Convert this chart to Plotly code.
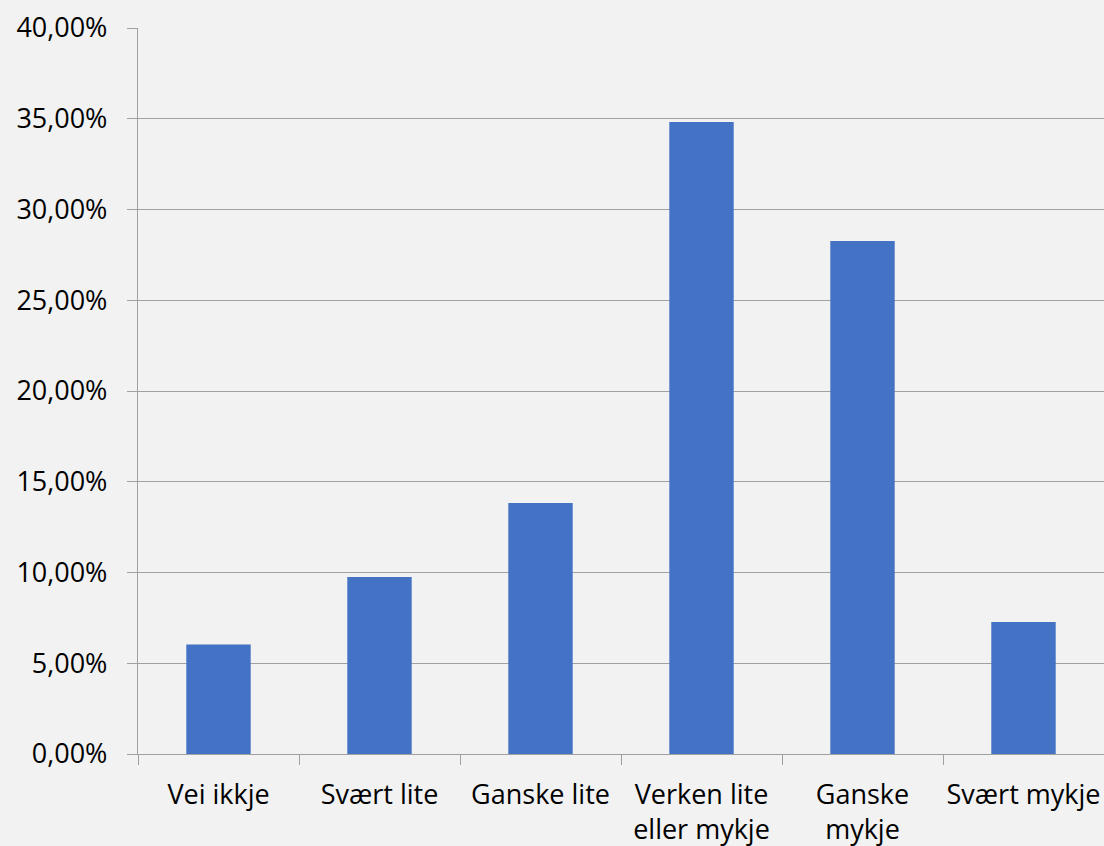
import plotly.graph_objects as go

categories = ["Vei ikkje", "Svært lite", "Ganske lite", "Verken lite<br>eller mykje", "Ganske<br>mykje", "Svært mykje"]
values = [0.0603, 0.0975, 0.1383, 0.3482, 0.2826, 0.0727]
y_ticks = [0, 0.05, 0.10, 0.15, 0.20, 0.25, 0.30, 0.35, 0.40]

grid = "#a0a0a0"
font = "Open Sans"

fig = go.Figure(go.Bar(
    x=categories, y=values,
    marker=dict(color="#4472C4", line=dict(width=0)),
    width=0.4,
))

fig.update_layout(
    width=1104, height=846,
    margin=dict(l=138, r=0, t=28, b=92),
    paper_bgcolor="#f2f2f2", plot_bgcolor="#f2f2f2",
    separators=", ",
    showlegend=False,
    font=dict(family=font, size=22, color="#000000"),
)
fig.update_yaxes(
    range=[0, 0.40], tickvals=y_ticks, tickformat=".2%",
    showgrid=True, gridcolor=grid, gridwidth=1.3,
    showline=True, linecolor=grid, linewidth=1.3,
    ticks="outside", ticklen=10, tickcolor=grid, tickwidth=1.3,
    zeroline=False, tickfont=dict(size=27), ticklabelstandoff=14,
    automargin=False,
)
fig.update_xaxes(
    range=[-0.5, 5.5], tickson="boundaries",
    ticks="outside", ticklen=10, tickcolor=grid, tickwidth=1.3,
    showline=True, linecolor=grid, linewidth=1.3,
    showgrid=False, tickfont=dict(size=27), ticklabelstandoff=16,
    tickangle=0, automargin=False,
)

fig.write_html("out.html", config={"displayModeBar": False})

with open("out.html", "r", encoding="utf-8") as f:
    html = f.read()
html = html.replace("<head>", "<head><style>html,body{margin:0;padding:0;background:#f2f2f2;}</style>", 1)
with open("out.html", "w", encoding="utf-8") as f:
    f.write(html)
